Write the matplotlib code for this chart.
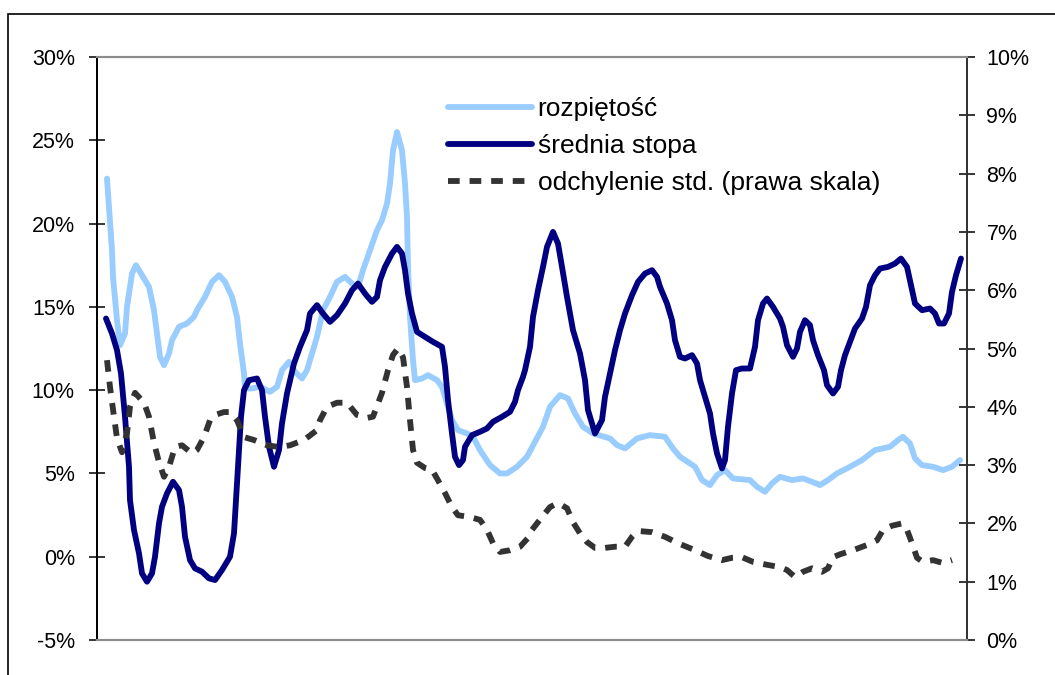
import matplotlib
matplotlib.use("Agg")
import matplotlib.pyplot as plt
from matplotlib.patches import Rectangle
from matplotlib.ticker import FuncFormatter

plt.rcParams["font.family"] = ["Liberation Sans", "DejaVu Sans"]

# --- data: period index (months) and values in percent ---
t_spread = [0.4, 1.4, 1.6, 2.4, 3.0, 4.0, 4.4, 5.4, 6.2, 7.4, 8.8, 9.8, 10.4, 11.0, 11.8,
            12.8, 13.4, 14.8, 16.4, 17.8, 18.4, 20.0, 21.4, 22.8, 24.0, 25.4, 26.4, 27.0,
            27.8, 28.0, 29.4, 31.0, 33.0, 34.4, 35.4, 36.8, 38.0, 39.4, 40.4, 41.0, 42.4,
            43.6, 45.0, 46.4, 48.0, 49.4, 50.6, 51.6, 53.0, 54.4, 55.4, 56.4, 57.0, 57.6,
            58.4, 59.4, 60.0, 60.4, 60.6, 61.0, 61.6, 62.0, 63.4, 64.6, 66.4, 67.4, 68.4,
            69.4, 70.6, 72.4, 73.6, 75.0, 77.0, 79.0, 80.4, 82.4, 84.4, 87.6, 89.0, 91.0,
            92.6, 94.0, 95.6, 97.6, 101.0, 102.4, 104.0, 106.4, 109.0, 112.0, 113.6, 115.0,
            118.0, 119.4, 121.0, 122.4, 124.0, 125.6, 129.0, 130.4, 132.0, 133.4, 135.0,
            137.4, 139.6, 141.4, 143.0, 144.6, 146.4, 149.0, 151.4, 154.0, 157.0, 158.6,
            159.6, 161.0, 162.0, 163.4, 165.6, 167.6, 169.4, 171.0]
spread = [22.7, 18.4, 16.8, 14.2, 12.7, 13.4, 15.0, 17.0, 17.5, 16.9, 16.2, 14.8, 13.4, 12.0,
          11.5, 12.2, 13.0, 13.8, 14.0, 14.4, 14.8, 15.6, 16.5, 16.9, 16.5, 15.6, 14.4, 12.8,
          11.0, 10.1, 10.1, 10.2, 9.9, 10.2, 11.2, 11.7, 11.1, 10.7, 11.2, 11.8, 13.2, 14.8,
          15.6, 16.5, 16.8, 16.4, 16.2, 17.2, 18.4, 19.6, 20.2, 21.2, 22.4, 24.4, 25.5, 24.4,
          22.4, 20.4, 17.4, 14.4, 11.8, 10.6, 10.7, 10.9, 10.6, 10.2, 9.2, 8.2, 7.6, 7.4, 7.2,
          6.4, 5.5, 5.0, 5.0, 5.4, 6.0, 7.8, 9.0, 9.7, 9.5, 8.6, 7.8, 7.4, 7.1, 6.7, 6.5, 7.1,
          7.3, 7.2, 6.5, 6.0, 5.4, 4.6, 4.3, 4.9, 5.2, 4.7, 4.6, 4.2, 3.9, 4.4, 4.8, 4.6, 4.7,
          4.5, 4.3, 4.6, 5.0, 5.4, 5.8, 6.4, 6.6, 7.0, 7.2, 6.8, 5.9, 5.5, 5.4, 5.2, 5.4, 5.8]

t_mean = [0.2, 1.4, 2.4, 3.2, 4.0, 4.8, 5.0, 5.8, 6.8, 7.4, 8.4, 9.4, 10.0, 10.8, 11.4, 12.4,
          13.6, 14.8, 15.4, 16.0, 17.0, 18.0, 19.4, 20.8, 22.0, 23.4, 25.0, 25.8, 26.2, 26.8,
          27.2, 27.8, 28.8, 30.4, 31.4, 32.0, 32.8, 33.8, 34.8, 35.4, 36.4, 37.8, 39.0, 40.4,
          41.0, 42.4, 43.6, 45.0, 46.4, 48.0, 49.4, 50.6, 52.0, 53.4, 54.4, 55.0, 56.0, 57.4,
          58.4, 59.4, 60.0, 60.6, 61.4, 62.4, 64.0, 65.6, 67.4, 68.0, 68.6, 69.4, 70.0, 70.8,
          71.6, 72.0, 73.4, 75.0, 76.4, 77.6, 79.4, 81.0, 82.0, 82.6, 83.6, 84.0, 85.0, 85.6,
          86.6, 87.6, 88.4, 89.6, 90.6, 91.4, 92.4, 93.6, 95.0, 96.0, 96.6, 98.0, 99.4, 100.0,
          101.0, 102.0, 103.0, 104.0, 105.4, 106.6, 108.0, 109.4, 110.4, 111.0, 112.4, 113.4,
          114.0, 115.0, 116.0, 117.4, 118.4, 119.0, 120.0, 121.0, 121.6, 122.4, 123.4, 124.0,
          124.6, 125.4, 126.2, 127.4, 129.0, 130.0, 130.6, 131.6, 132.4, 133.6, 135.0, 135.6,
          136.4, 137.6, 138.4, 139.0, 140.0, 141.0, 141.6, 142.6, 143.8, 144.4, 145.6, 146.6,
          147.2, 148.0, 149.0, 150.0, 151.4, 152.2, 153.0, 154.0, 155.0, 156.6, 158.0, 159.2,
          160.4, 161.2, 162.0, 163.4, 165.0, 166.0, 166.8, 167.8, 168.8, 169.4, 170.2, 171.2]
mean_rate = [14.3, 13.4, 12.4, 11.0, 8.4, 5.4, 3.4, 1.6, 0.2, -1.0, -1.5, -1.0, 0.0, 2.0,
             3.0, 3.8, 4.5, 4.0, 3.0, 1.2, -0.2, -0.7, -0.9, -1.3, -1.4, -0.8, 0.0, 1.4, 3.4,
             6.4, 8.4, 10.0, 10.6, 10.7, 10.0, 8.4, 6.6, 5.4, 6.4, 8.0, 9.8, 11.6, 12.6, 13.6,
             14.6, 15.1, 14.6, 14.1, 14.5, 15.2, 16.0, 16.4, 15.8, 15.3, 15.6, 16.6, 17.4, 18.2,
             18.6, 18.2, 17.2, 15.8, 14.6, 13.5, 13.2, 12.9, 12.6, 11.4, 9.4, 7.4, 6.0, 5.5,
             5.8, 6.6, 7.3, 7.5, 7.7, 8.1, 8.4, 8.7, 9.3, 10.0, 10.8, 11.2, 12.6, 14.4, 16.0,
             17.4, 18.6, 19.5, 18.8, 17.4, 15.6, 13.6, 12.2, 10.6, 8.8, 7.4, 8.2, 9.6, 11.0,
             12.4, 13.6, 14.6, 15.7, 16.5, 17.0, 17.2, 16.8, 16.2, 15.2, 14.2, 13.0, 12.0, 11.9,
             12.1, 11.6, 10.6, 9.6, 8.6, 7.4, 6.2, 5.3, 5.8, 7.8, 9.8, 11.2, 11.3, 11.3, 12.6,
             14.2, 15.2, 15.5, 15.0, 14.3, 13.8, 12.7, 12.0, 12.5, 13.5, 14.2, 13.9, 13.0, 12.1,
             11.2, 10.3, 9.8, 10.2, 11.2, 12.1, 12.9, 13.7, 14.3, 15.0, 16.3, 16.9, 17.3, 17.4,
             17.6, 17.9, 17.4, 16.3, 15.2, 14.8, 14.9, 14.6, 14.0, 14.0, 14.6, 15.9, 16.9, 17.9]

t_std = [0.4, 1.0, 1.8, 2.4, 3.4, 4.4, 5.0, 6.0, 7.8, 8.8, 9.8, 10.8, 11.8, 12.8, 14.0, 15.4,
         17.4, 18.4, 19.8, 21.0, 22.0, 23.8, 25.0, 26.4, 27.8, 29.8, 32.4, 34.8, 37.0, 39.8,
         42.4, 43.0, 44.4, 46.4, 48.4, 50.4, 52.4, 53.6, 55.4, 56.6, 57.6, 58.6, 59.6, 60.4,
         61.0, 61.6, 62.4, 64.0, 65.4, 66.6, 68.0, 69.4, 70.6, 73.0, 75.0, 76.4, 77.6, 79.0,
         81.0, 83.0, 84.6, 85.4, 87.4, 89.0, 90.6, 92.4, 93.6, 95.0, 96.4, 98.0, 100.0, 102.0,
         104.0, 105.4, 106.6, 109.4, 112.0, 114.6, 118.0, 120.6, 123.4, 125.4, 127.4, 129.6,
         132.4, 135.0, 136.4, 138.0, 139.6, 141.4, 143.4, 144.6, 145.6, 147.0, 149.6, 152.4,
         154.4, 155.6, 157.4, 159.4, 160.4, 161.4, 162.4, 163.6, 165.6, 167.6, 169.4]
std_dev = [4.80, 4.34, 3.83, 3.46, 3.22, 3.55, 4.00, 4.24, 4.07, 3.83, 3.38, 3.05, 2.80, 2.97,
           3.31, 3.34, 3.20, 3.26, 3.48, 3.77, 3.86, 3.91, 3.91, 3.77, 3.48, 3.43, 3.34, 3.31,
           3.34, 3.43, 3.60, 3.77, 4.00, 4.07, 4.07, 3.86, 3.81, 3.83, 4.24, 4.63, 4.89, 5.00,
           4.85, 4.34, 3.77, 3.26, 3.04, 2.95, 2.92, 2.74, 2.52, 2.28, 2.14, 2.11, 2.06, 1.89,
           1.66, 1.51, 1.54, 1.60, 1.75, 1.89, 2.11, 2.28, 2.35, 2.26, 2.02, 1.83, 1.68, 1.58,
           1.58, 1.60, 1.60, 1.77, 1.87, 1.85, 1.77, 1.66, 1.54, 1.44, 1.37, 1.41, 1.42, 1.34,
           1.29, 1.25, 1.20, 1.08, 1.17, 1.23, 1.17, 1.23, 1.42, 1.47, 1.54, 1.63, 1.71, 1.89,
           1.96, 2.00, 1.89, 1.66, 1.41, 1.34, 1.37, 1.32, 1.37]

labels = ["rozpiętość", "średnia stopa", "odchylenie std. (prawa skala)"]
left_ticks = [-5, 0, 5, 10, 15, 20, 25, 30]
right_ticks = [0, 1, 2, 3, 4, 5, 6, 7, 8, 9, 10]

c_spread = "#99CCFF"
c_mean = "#000080"
c_std = "#333333"

W, H = 1055, 675
fig = plt.figure(figsize=(W / 100, H / 100), dpi=100)

# outer chart frame (runs off the right and bottom edges)
fig.add_artist(Rectangle((8 / W, -0.2), 1.2, 1 - 14 / H + 0.2, transform=fig.transFigure,
                         fill=False, edgecolor="black", linewidth=1.2))

ax = fig.add_axes([97 / W, 1 - 640 / H, (967 - 97) / W, (640 - 57) / H])
ax2 = ax.twinx()

lw = 4.2
l1, = ax.plot(t_spread, spread, color=c_spread, lw=lw, solid_joinstyle="round",
              solid_capstyle="round", zorder=2)
l2, = ax.plot(t_mean, mean_rate, color=c_mean, lw=lw, solid_joinstyle="round",
              solid_capstyle="round", zorder=3)
l3, = ax2.plot(t_std, std_dev, color=c_std, lw=lw, linestyle=(0, (2.0, 1.7)),
               dash_capstyle="butt", zorder=3)

ax.set_xlim(-1.6, 172.4)
ax.set_ylim(-5, 30)
ax2.set_ylim(0, 10)
ax.set_yticks(left_ticks)
ax2.set_yticks(right_ticks)
pct = FuncFormatter(lambda v, _: f"{v:.0f}%")
ax.yaxis.set_major_formatter(pct)
ax2.yaxis.set_major_formatter(pct)
ax.set_xticks([])

for a in (ax, ax2):
    a.spines["top"].set_color("#8c8c8c")
    a.spines["bottom"].set_color("#8c8c8c")
    a.spines["top"].set_linewidth(1.5)
    a.spines["bottom"].set_linewidth(1.5)
    a.spines["left"].set_color("black")
    a.spines["right"].set_color("#333333")
    a.spines["left"].set_linewidth(1.3)
    a.spines["right"].set_linewidth(1.3)
    a.patch.set_visible(False)

ax.tick_params(axis="y", direction="inout", length=12, width=1.1, labelsize=15.5, pad=10,
               colors="black")
ax2.tick_params(axis="y", direction="inout", length=12, width=1.1, labelsize=15.5, pad=8,
                colors="black")

ax2.legend([l1, l2, l3], labels, loc="upper left", bbox_to_anchor=(448 / W, 1 - 97 / H),
           bbox_transform=fig.transFigure, frameon=False, fontsize=19, handlelength=3.2,
           handletextpad=0.2, labelspacing=0.5, borderpad=0, borderaxespad=0)

fig.savefig("out.png", dpi=100)
